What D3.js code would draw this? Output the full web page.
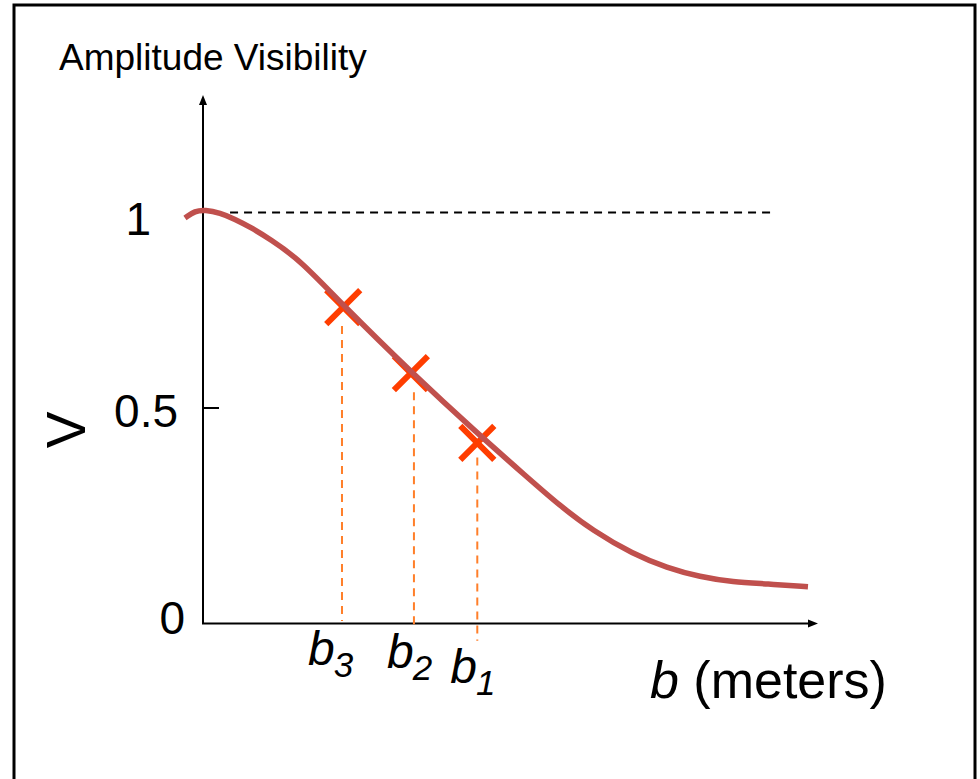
<!DOCTYPE html>
<html>
<head>
<meta charset="utf-8">
<script src="https://cdn.jsdelivr.net/npm/d3@7/dist/d3.min.js"></script>
<style>
  html, body { margin: 0; padding: 0; background: #fff; }
  svg { display: block; }
  text { font-family: "Liberation Sans", Arial, Helvetica, sans-serif; fill: #000; }
</style>
</head>
<body>
<svg id="chart" width="980" height="779"></svg>
<script>
// ---------------- data ----------------
const chartTitle = "Amplitude Visibility";
const yLabel = "V";
const xLabelItalic = "b";
const xLabelRest = " (meters)";

// curve: baseline b (arbitrary units 0..100) vs visibility amplitude V
const curveB = [-2.93, -1.30, 0.33, 2.76, 5.20, 7.64, 10.89, 15.77, 22.76, 33.82, 44.55, 52.68, 58.05, 63.41, 69.92, 75.45, 80.81, 86.18, 91.71, 98.37];
const curveV = [0.986, 1.004, 1.007, 0.999, 0.983, 0.963, 0.932, 0.879, 0.763, 0.592, 0.442, 0.340, 0.273, 0.215, 0.161, 0.129, 0.108, 0.096, 0.092, 0.085];

// measured baselines (markers)
const markerSubs = ["3", "2", "1"];
const markerB = [22.8, 33.8, 44.6];
const markerV = [0.758, 0.589, 0.419];
const dropB = [22.6, 34.3, 44.6];
const dropTopV = [0.71, 0.54, 0.385];
const dropBottomV = [0.006, -0.015, -0.040];

// y ticks
const yTickValues = [0, 0.5, 1];
const yTickLabels = ["0", "0.5", "1"];
const refLineV = 1;
const refLineB = [4.4, 92.3];

// ---------------- layout ----------------
const svg = d3.select("#chart");
const x = d3.scaleLinear().domain([0, 100]).range([203, 818]);
const y = d3.scaleLinear().domain([0, 0.5, 1]).range([623.5, 408, 212.5]);
const yAxisTop = 95;

// border
svg.append("rect")
  .attr("x", 14).attr("y", 5).attr("width", 961).attr("height", 800)
  .attr("fill", "none").attr("stroke", "#000").attr("stroke-width", 3);

// title
svg.append("text")
  .attr("x", 59).attr("y", 70)
  .style("font-size", "37px")
  .text(chartTitle);

// y axis label
svg.append("text")
  .attr("transform", "translate(85,430) rotate(-90)")
  .attr("text-anchor", "middle")
  .style("font-size", "55px")
  .text(yLabel);

// x axis label
const xl = svg.append("text")
  .attr("x", 650).attr("y", 698)
  .style("font-size", "52px");
xl.append("tspan").style("font-style", "italic").text(xLabelItalic);
xl.append("tspan").text(xLabelRest);

// axes lines
const axisG = svg.append("g").attr("stroke", "#000").attr("fill", "#000");
axisG.append("line")
  .attr("x1", x(0)).attr("x2", x(0))
  .attr("y1", y(0)).attr("y2", yAxisTop + 8)
  .attr("stroke-width", 2);
axisG.append("path")
  .attr("d", `M${x(0)},${yAxisTop} L${x(0) - 4},${yAxisTop + 10} L${x(0) + 4},${yAxisTop + 10} Z`)
  .attr("stroke", "none");
axisG.append("line")
  .attr("x1", x(0) - 1).attr("x2", x(100) - 8)
  .attr("y1", y(0)).attr("y2", y(0))
  .attr("stroke-width", 2);
axisG.append("path")
  .attr("d", `M${x(100)},${y(0)} L${x(100) - 10},${y(0) - 4} L${x(100) - 10},${y(0) + 4} Z`)
  .attr("stroke", "none");

// y tick at 0.5
axisG.append("line")
  .attr("x1", x(0)).attr("x2", x(0) + 16)
  .attr("y1", y(0.5)).attr("y2", y(0.5))
  .attr("stroke-width", 2);

// y tick labels
const tickLabelRight = { "0": 185, "0.5": 178, "1": 151 };
const tickLabelDy = { "0": 10, "0.5": 19, "1": 22 };
svg.selectAll("text.ytick")
  .data(yTickValues)
  .enter().append("text")
  .attr("class", "ytick")
  .attr("text-anchor", "end")
  .attr("x", (d, i) => tickLabelRight[yTickLabels[i]])
  .attr("y", (d, i) => y(d) + tickLabelDy[yTickLabels[i]])
  .style("font-size", "46px")
  .text((d, i) => yTickLabels[i]);

// reference dashed line at V = 1
svg.append("line")
  .attr("x1", x(refLineB[0])).attr("x2", x(refLineB[1]))
  .attr("y1", y(refLineV)).attr("y2", y(refLineV))
  .attr("stroke", "#000").attr("stroke-width", 2)
  .attr("stroke-dasharray", "8,6");

// drop lines
svg.selectAll("line.drop")
  .data(dropB)
  .enter().append("line")
  .attr("class", "drop")
  .attr("x1", d => x(d)).attr("x2", d => x(d))
  .attr("y1", (d, i) => y(dropTopV[i]))
  .attr("y2", (d, i) => y(dropBottomV[i]))
  .attr("stroke", "#ff7f2a").attr("stroke-width", 2)
  .attr("stroke-dasharray", "8,6");

// markers (X)
const m = 17;
svg.selectAll("path.marker")
  .data(markerB)
  .enter().append("path")
  .attr("class", "marker")
  .attr("d", (d, i) => {
    const cx = x(d), cy = y(markerV[i]);
    return `M${cx - m},${cy + m} L${cx + m},${cy - m} M${cx - m},${cy - m} L${cx + m},${cy + m}`;
  })
  .attr("stroke", "#ff3d00").attr("stroke-width", 6).attr("fill", "none");

// curve
const curveData = curveB.map((b, i) => ({ b, v: curveV[i] }));
const line = d3.line().x(d => x(d.b)).y(d => y(d.v)).curve(d3.curveBasis);
svg.append("path")
  .datum(curveData)
  .attr("d", line)
  .attr("fill", "none")
  .attr("stroke", "#c0504d")
  .attr("stroke-width", 5.5)
  .attr("stroke-linecap", "butt");

// b labels
const labelDx = [-34, -27, -27];
const labelY = [665, 668, 683];
markerSubs.forEach((sub, i) => {
  const t = svg.append("text")
    .attr("x", x(dropB[i]) + labelDx[i])
    .attr("y", labelY[i])
    .style("font-style", "italic")
    .style("font-size", "48px");
  t.append("tspan").text("b");
  t.append("tspan").attr("dy", 12).attr("dx", -1).style("font-size", "35px").text(sub);
});
</script>
</body>
</html>
